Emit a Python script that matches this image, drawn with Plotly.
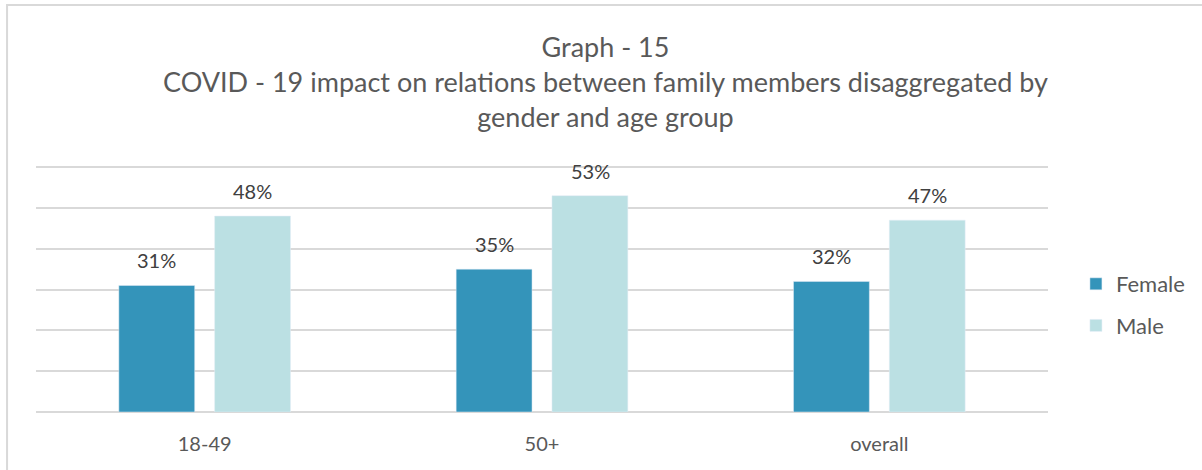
import plotly.graph_objects as go

categories = ['18-49', '50+', 'overall']
female = [31, 35, 32]
male = [48, 53, 47]

FONT = 'Lato'
TEXT = '#595959'
LABEL = '#404040'
PLOT_H = 249  # plot area height in px (range 0-61)

fig = go.Figure()
fig.add_trace(go.Bar(x=categories, y=female, name='Female', legendgroup='f',
                     marker_color='#3494BA'))
fig.add_trace(go.Bar(x=categories, y=male, name='Male', legendgroup='m',
                     marker_color='#BBE0E3'))

# data labels above each bar (bars of a group sit 96 px apart)
for vals, shift in [(female, -48), (male, 48)]:
    for cat, v in zip(categories, vals):
        fig.add_annotation(x=cat, y=v, text=f'{v}%', showarrow=False,
                           xshift=shift, yanchor='bottom', yshift=11,
                           font=dict(size=20, color=LABEL, family=FONT))

fig.update_layout(
    width=1202, height=470,
    margin=dict(l=36, r=152, t=470 - 58 - PLOT_H, b=58),
    paper_bgcolor='white', plot_bgcolor='white',
    font=dict(family=FONT, color=TEXT, size=20),
    barmode='group', bargap=0.432, bargroupgap=0.208,
    legend=dict(
        x=1.0276, xanchor='left', y=107 / PLOT_H, yanchor='middle',
        font=dict(size=22, color=TEXT), tracegroupgap=10,
        itemclick=False,
    ),
    showlegend=True,
)
fig.update_xaxes(showline=False, ticks='', ticklabelstandoff=18,
                 tickfont=dict(size=20, color=TEXT))
fig.update_yaxes(range=[0, 61], tickvals=[0, 10, 20, 30, 40, 50, 60],
                 showticklabels=False,
                 gridcolor='#D9D9D9', gridwidth=1.5,
                 zeroline=True, zerolinecolor='#D9D9D9', zerolinewidth=1.5)

# chart title, three centred lines
fig.add_annotation(
    text='Graph - 15<br>COVID - 19 impact on relations between family members disaggregated by<br>gender and age group',
    xref='paper', yref='paper', x=0.563, y=(412 - 82) / PLOT_H,
    xanchor='center', yanchor='middle', showarrow=False, align='center',
    font=dict(size=27, color=TEXT, family=FONT),
)

# outer chart border (left and top edges visible)
fig.add_shape(type='rect', xref='paper', yref='paper',
              x0=(7 - 36) / 1014, x1=(1260 - 36) / 1014,
              y0=(412 - 520) / PLOT_H, y1=(412 - 5) / PLOT_H,
              line=dict(color='#D9D9D9', width=2), layer='below')

fig.write_html('out.html', config={'displayModeBar': False},
               post_script="document.body.style.margin='0';")
